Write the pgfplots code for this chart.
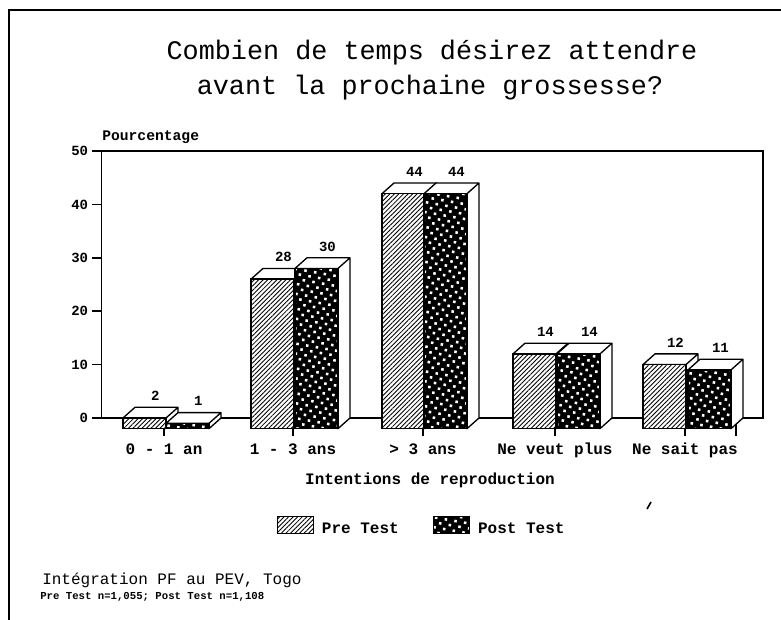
\documentclass[border=0pt]{standalone}
\usepackage{fontspec}
\setmainfont{Liberation Mono}
\usepackage{pgfplots}
\pgfplotsset{compat=1.18}
\usetikzlibrary{patterns.meta}
\newcommand\fs[1]{\fontsize{#1pt}{#1pt}\selectfont}
\pgfplotsset{
  ext/.style={forget plot,draw=black,line width=1pt,fill=white,mark=none,yshift=-8.01pt,line join=round},
  front/.style={ybar,bar width=43,bar shift=0pt,draw=black,line width=1pt,yshift=-8.01pt,mark=none,
    nodes near coords,point meta=y,
    every node near coord/.append style={anchor=center,xshift=8.2pt,yshift=16.5pt,text=black,
      font=\fs{10.5}\bfseries,/pgf/number format/assume math mode=true}},
  prestyle/.style={front,preaction={fill=white},pattern={Lines[angle=45,distance=2.4pt,line width=0.65pt]},pattern color=black},
  poststyle/.style={front,preaction={fill=black},pattern={Dots[radius=1.35pt,distance=5.2pt,angle=35]},pattern color=white},
}
\begin{document}
\begin{tikzpicture}[x=0.75pt,y=0.75pt]
\path[use as bounding box] (0,0) rectangle (781,620);
\draw[line width=1.2pt] (781,610) -- (9,610) -- (9,0);
\begin{scope}[x=1cm,y=1cm]
\begin{axis}[
  at={(76.125pt,151.5pt)},anchor=south west,scale only axis,
  width=496.1pt,height=200.25pt,
  xmin=101.5,xmax=763,ymin=0,ymax=50,clip=false,
  axis line style={line width=1.1pt},
  ytick={0,10,20,30,40,50},
  xtick={164,293,423,555,685,736},
  xticklabels={0 - 1 an,1 - 3 ans,> 3 ans,Ne veut plus,Ne sait pas,},
  tick align=outside,tick pos=left,
  tick style={black,line width=1.1pt},
  major tick length=13.5pt,
  ytick style={/pgfplots/major tick length=7pt},
  xticklabel style={font=\fs{12}\bfseries,yshift=-2pt},
  yticklabel style={font=\fs{10.5}\bfseries,/pgf/number format/assume math mode=true,xshift=7pt},
  xlabel={Intentions de reproduction},
  xlabel style={font=\fs{12}\bfseries,at={(axis cs:430,0)},anchor=center,yshift=-46.5pt},
  legend columns=2,
  legend style={draw=none,fill=none,at={(axis cs:277,-20.5)},anchor=west,font=\fs{12}\bfseries,
    inner sep=0pt,/tikz/every even column/.append style={column sep=24pt}},
  legend image code/.code={\draw[#1,line width=0.5pt] (0pt,5pt) rectangle (27pt,17.5pt);},
]
% side and top faces
\addplot[ext] coordinates {(166,2)(123,2)(135,4)(178,4)(166,2)(166,0)(178,2)(178,4)};
\addplot[ext] coordinates {(209,1)(166,1)(178,3)(221,3)(209,1)(209,0)(221,2)(221,3)};
\addplot[ext] coordinates {(294,28)(251,28)(263,30)(306,30)(294,28)(294,0)(306,2)(306,30)};
\addplot[ext] coordinates {(338,30)(295,30)(307,32)(350,32)(338,30)(338,0)(350,2)(350,32)};
\addplot[ext] coordinates {(425,44)(382,44)(394,46)(437,46)(425,44)(425,0)(437,2)(437,46)};
\addplot[ext] coordinates {(467,44)(424,44)(436,46)(479,46)(467,44)(467,0)(479,2)(479,46)};
\addplot[ext] coordinates {(556,14)(513,14)(525,16)(568,16)(556,14)(556,0)(568,2)(568,16)};
\addplot[ext] coordinates {(600,14)(557,14)(569,16)(612,16)(600,14)(600,0)(612,2)(612,16)};
\addplot[ext] coordinates {(686,12)(643,12)(655,14)(698,14)(686,12)(686,0)(698,2)(698,14)};
\addplot[ext] coordinates {(731,11)(688,11)(700,13)(743,13)(731,11)(731,0)(743,2)(743,13)};
% front faces
\addplot[prestyle] coordinates {(144.5,2)(272.5,28)(403.5,44)(534.5,14)(664.5,12)};
\addplot[poststyle] coordinates {(187.5,1)(316.5,30)(445.5,44)(578.5,14)(709.5,11)};
\legend{\hspace*{4pt}Pre Test,\hspace*{4pt}Post Test}
\end{axis}
\end{scope}
\node[font=\fs{20.1}] at (432,567) {Combien de temps désirez attendre};
\node[font=\fs{20.1}] at (430,532) {avant la prochaine grossesse?};
\node[font=\fs{11}\bfseries,anchor=west,inner sep=0pt] at (102,483) {Pourcentage};
\node[font=\fs{12},anchor=west,inner sep=0pt] at (42,40) {Intégration PF au PEV, Togo};
\node[font=\fs{8}\bfseries,anchor=west,inner sep=0pt] at (40,23) {Pre Test n=1,055; Post Test n=1,108};
\draw[line width=1.2pt] (647,111) -- (651,118);
\end{tikzpicture}
\end{document}
